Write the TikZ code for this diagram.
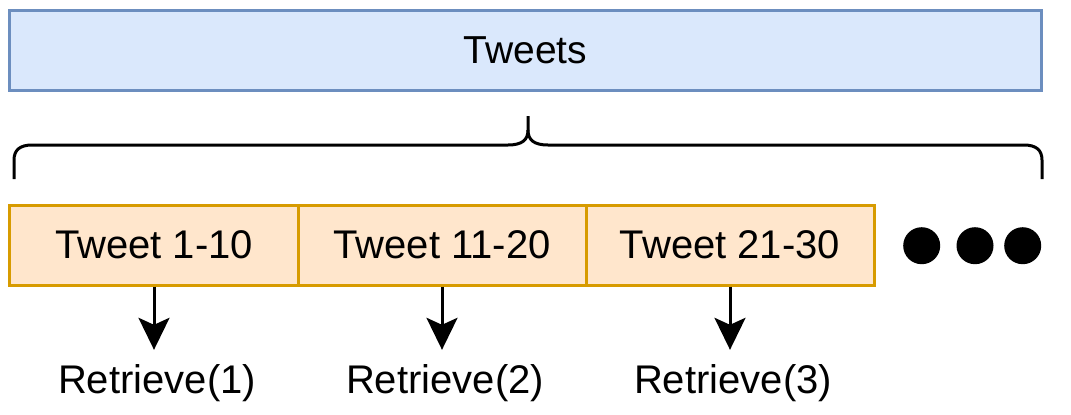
\documentclass[tikz,border=0pt]{standalone}
\usepackage{fontspec}
\setmainfont{Liberation Sans}
\usetikzlibrary{arrows.meta}
\definecolor{bluefill}{HTML}{DAE8FC}
\definecolor{bluestroke}{HTML}{6C8EBF}
\definecolor{orfill}{HTML}{FFE6CC}
\definecolor{orstroke}{HTML}{D79B00}
\tikzset{
  lbl/.style={font=\fontsize{40bp}{48bp}\selectfont, inner sep=0pt},
  bluebox/.style={draw=bluestroke, fill=bluefill, line width=3bp, minimum width=1031bp, minimum height=80bp, inner sep=0pt, font=\fontsize{39bp}{47bp}\selectfont},
  orbox/.style={draw=orstroke, fill=orfill, line width=3bp, minimum width=288bp, minimum height=80bp, inner sep=0pt, font=\fontsize{40bp}{48bp}\selectfont},
  bracestyle/.style={line width=3bp, line cap=butt, line join=round},
  arr/.style={line width=3bp, -{Stealth[length=32bp,width=31bp,inset=7bp]}},
  dot/.style={fill=black, circle, minimum size=37bp, inner sep=0pt}
}
\begin{document}
\begin{tikzpicture}[x=1bp,y=-1bp]
\useasboundingbox (0,0) rectangle (1071,414);
\node[bluebox] (tweets) at (525.5,50) {Tweets};
% brace
\draw[bracestyle] (14,179) -- (14,160) .. controls (14,150) and (20,145) .. (32,145)
  -- (508,145) .. controls (522,145) and (528,140) .. (528,130) -- (528,116);
\draw[bracestyle] (1042,179) -- (1042,160) .. controls (1042,150) and (1036,145) .. (1024,145)
  -- (548,145) .. controls (534,145) and (528,140) .. (528,130);
% boxes
\node[orbox] (b1) at (154,245) {Tweet 1-10};
\node[orbox] (b2) at (442,245) {Tweet 11-20};
\node[orbox] (b3) at (730,245) {Tweet 21-30};
% dots
\node[dot] (d1) at (921.7,245.7) {};
\node[dot] (d2) at (975,245.7) {};
\node[dot] (d3) at (1022.7,245.7) {};
% labels
\node[lbl, anchor=base] (r1) at (157,393) {Retrieve(1)};
\node[lbl, anchor=base] (r2) at (445,393) {Retrieve(2)};
\node[lbl, anchor=base] (r3) at (733,393) {Retrieve(3)};
% arrows
\draw[arr, shorten >=14bp] (b1.south) -- (b1.south |- r1.north);
\draw[arr, shorten >=14bp] (b2.south) -- (b2.south |- r2.north);
\draw[arr, shorten >=14bp] (b3.south) -- (b3.south |- r3.north);
\end{tikzpicture}
\end{document}
